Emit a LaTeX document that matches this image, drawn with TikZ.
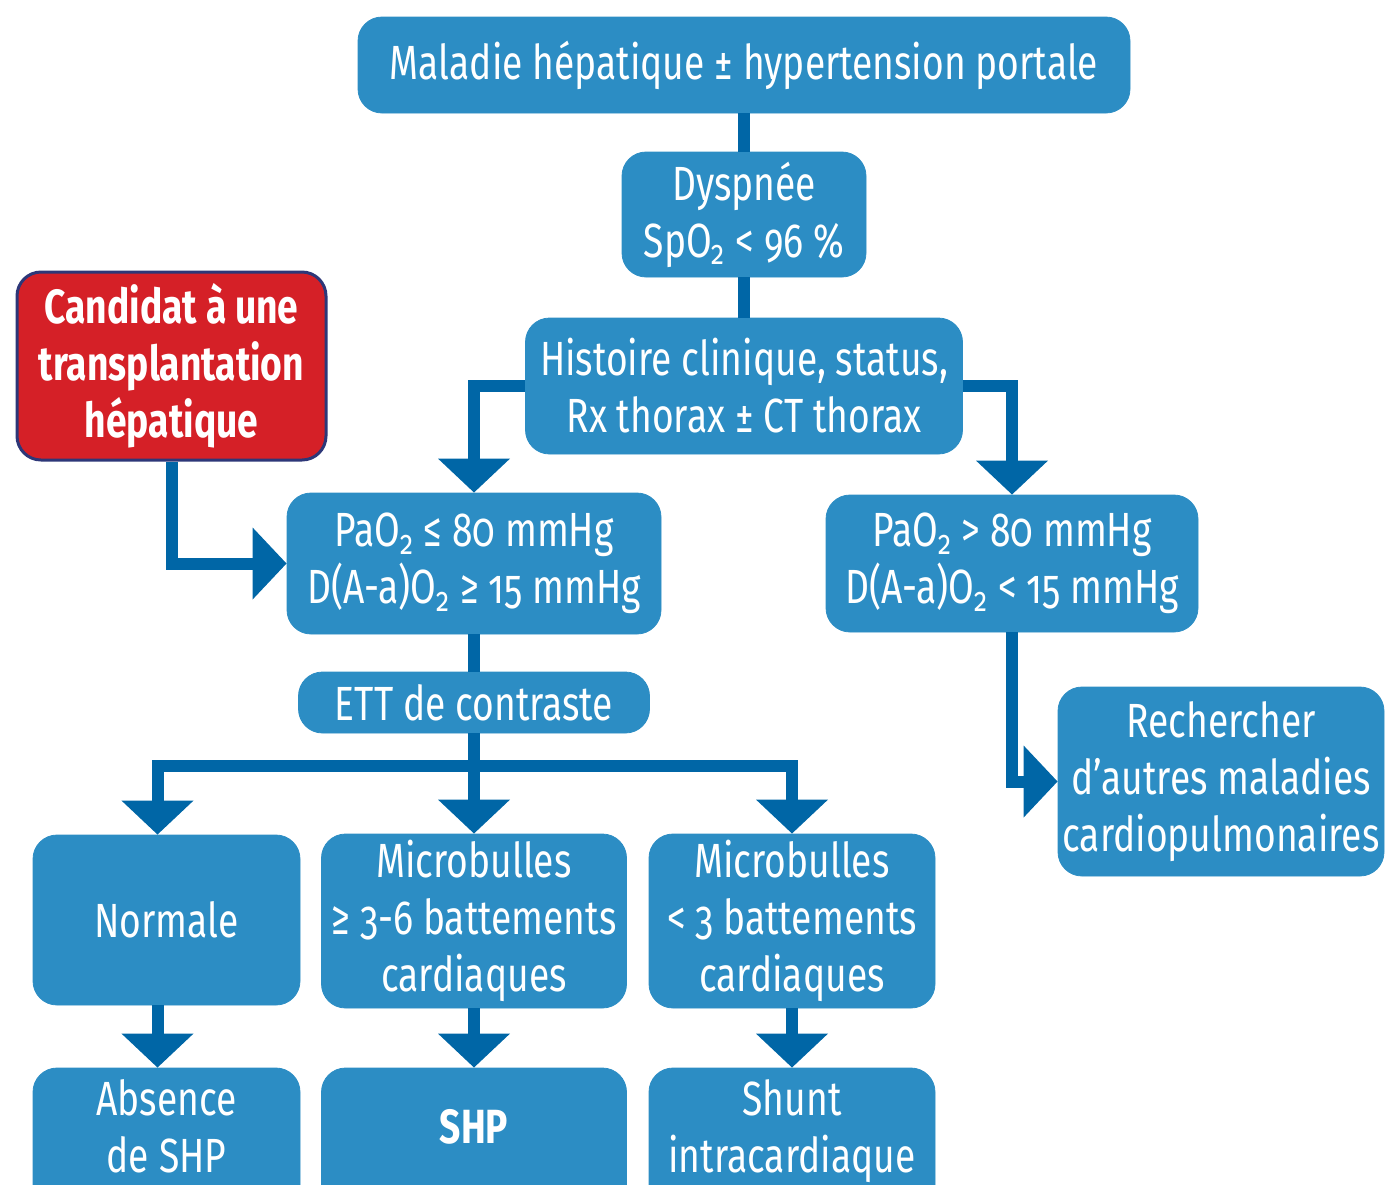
\documentclass[tikz,border=0pt]{standalone}
\usepackage{fontspec}
\setmainfont[FakeStretch=0.775,Numbers=OldStyle]{Fira Sans}
\usetikzlibrary{arrows.meta}
\definecolor{boxblue}{RGB}{44,141,196}
\definecolor{arrblue}{RGB}{0,102,166}
\definecolor{candred}{RGB}{213,32,39}
\definecolor{navyedge}{RGB}{45,55,120}
\begin{document}
\begin{tikzpicture}[x=0.5pt,y=-0.5pt,
  box/.style={rounded corners=12pt, fill=boxblue, draw=boxblue, text=white, align=center,
    inner sep=0pt, font=\fontsize{24}{28.5}\selectfont},
  redbox/.style={box, fill=candred, draw=navyedge, line width=1.5pt, font=\fontsize{24}{28.5}\selectfont\bfseries},
  link/.style={draw=arrblue, line width=6pt},
  arr/.style={link, -{Triangle[width=35pt,length=17pt]}}
]
\useasboundingbox (0,0) rectangle (1385,1184);
\clip (0,0) rectangle (1385,1184);

\node[box, minimum width=386pt, minimum height=48pt] (top) at (744,65)
  {Maladie hépatique ± hypertension portale};
\node[box, minimum width=122pt, minimum height=62.5pt] (dys) at (744,214.5)
  {Dyspnée\\SpO\textsubscript{2} < 96 \%};
\node[box, minimum width=218.5pt, minimum height=68pt] (hist) at (744,386)
  {Histoire clinique, status,\\Rx thorax ± CT thorax};
\node[redbox, minimum width=154.5pt, minimum height=94pt] (cand) at (171.5,366)
  {Candidat à une\\transplantation\\hépatique};
\node[box, minimum width=187pt, minimum height=70.5pt] (pa1) at (474,563.5)
  {PaO\textsubscript{2} ≤ 80 mmHg\\D(A-a)O\textsubscript{2} ≥ 15 mmHg};
\node[box, minimum width=186pt, minimum height=68.5pt] (pa2) at (1012,563.5)
  {PaO\textsubscript{2} > 80 mmHg\\D(A-a)O\textsubscript{2} < 15 mmHg};
\node[box, minimum width=163pt, minimum height=94.5pt] (rech) at (1221,781.5)
  {Rechercher\\d’autres maladies\\cardiopulmonaires};
\node[box, minimum width=175.5pt, minimum height=30.5pt] (ett) at (474,702.5)
  {ETT de contraste};
\node[box, minimum width=133.5pt, minimum height=85pt] (norm) at (166.5,920)
  {Normale};
\node[box, minimum width=152.5pt, minimum height=87pt] (mic1) at (474,921)
  {Microbulles\\≥ 3-6 battements\\cardiaques};
\node[box, minimum width=143pt, minimum height=87pt] (mic2) at (792,921)
  {Microbulles\\< 3 battements\\cardiaques};
\node[box, minimum width=133.5pt, minimum height=71pt, text depth=13pt] (abs) at (166.5,1139)
  {Absence\\de SHP};
\node[box, minimum width=152.5pt, minimum height=71pt, text depth=13pt, font=\fontsize{24}{28.5}\selectfont\bfseries] (shp) at (474,1139)
  {SHP};
\node[box, minimum width=143pt, minimum height=71pt, text depth=13pt] (shunt) at (792,1139)
  {Shunt\\intracardiaque};

\coordinate (br) at (474,766);

\draw[link] (top.south) -- (dys.north);
\draw[link] (dys.south) -- (hist.north);
\draw[arr] (hist.west) -| (pa1.north);
\draw[arr] (hist.east) -| (pa2.north);
\draw[arr] (cand.south) |- (pa1.west);
\draw[link] (pa1.south) -- (ett.north);
\draw[arr] (ett.south) -- (mic1.north);
\draw[arr] (br) -| ([xshift=-4.5pt]norm.north);
\draw[arr] (br) -| (mic2.north);
\draw[arr] ([xshift=-4.5pt]norm.south) -- ([xshift=-4.5pt]abs.north);
\draw[arr] (mic1.south) -- (shp.north);
\draw[arr] (mic2.south) -- (shunt.north);
\draw[arr] (pa2.south) |- (rech.west);
\end{tikzpicture}
\end{document}
